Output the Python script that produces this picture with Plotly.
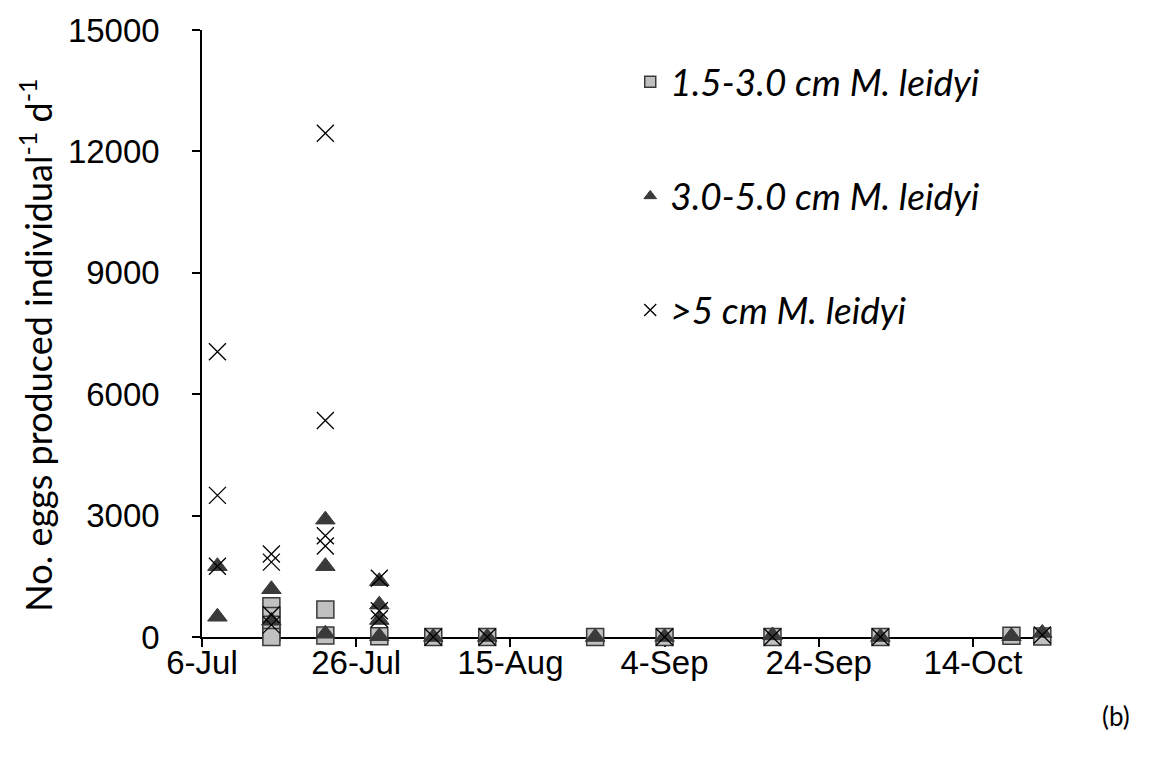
import plotly.graph_objects as go

# Sampling dates (one entry per measured individual) and egg production values
small_dates = ["2009-07-15"] * 5 + ["2009-07-22"] * 2 + ["2009-07-29",
               "2009-08-05", "2009-08-12", "2009-08-26", "2009-09-04",
               "2009-09-18", "2009-10-02", "2009-10-19", "2009-10-23"]
small_eggs = [760, 520, 300, 120, 0, 680, 40, 20,
              0, 0, 0, 0, 0, 0, 30, 10]

mid_dates = (["2009-07-08"] * 2 + ["2009-07-15"] * 2 + ["2009-07-22"] * 3
             + ["2009-07-29"] * 4 + ["2009-08-05", "2009-08-12", "2009-08-26",
                                     "2009-09-04", "2009-09-18", "2009-10-02",
                                     "2009-10-19", "2009-10-23"])
mid_eggs = [1750, 500, 1180, 400, 2900, 1750, 80, 1380, 800, 420, 20,
            0, 0, 0, 0, 40, 0, 20, 100]

large_dates = (["2009-07-08"] * 3 + ["2009-07-15"] * 4 + ["2009-07-22"] * 4
               + ["2009-07-29"] * 3 + ["2009-08-05", "2009-08-12", "2009-09-04",
                                       "2009-09-18", "2009-10-02", "2009-10-23"])
large_eggs = [7050, 3500, 1750, 2050, 1850, 550, 300, 12450, 5350, 2500, 2250,
              1450, 650, 450, 0, 0, 0, 0, 0, 50]

labels = ["1.5-3.0 cm M. leidyi", "3.0-5.0 cm M. leidyi", ">5 cm M. leidyi"]

x_tick_dates = ["2009-07-06", "2009-07-26", "2009-08-15",
                "2009-09-04", "2009-09-24", "2009-10-14"]
y_ticks = [0, 3000, 6000, 9000, 12000, 15000]
y_tick_text = ["0", "3000", "6000", "9000", "12000", "15000"]

sq_style = dict(symbol="square", color="#c0c0c0", line=dict(color="#3a3a3a", width=1.5))
tri_style = dict(symbol="triangle-up", color="#3a3a3a", line=dict(color="#3a3a3a", width=1))
x_style = dict(symbol="x-thin", color="black", line=dict(color="black", width=1.3))

fig = go.Figure()

series = [
    (small_dates, small_eggs, sq_style, 17, 11),
    (mid_dates, mid_eggs, tri_style, 17, 11),
    (large_dates, large_eggs, x_style, 17, 12),
]
for i, (xs, ys, style, size, legend_size) in enumerate(series):
    fig.add_trace(go.Scatter(
        x=xs, y=ys, mode="markers", showlegend=False, cliponaxis=False,
        marker=dict(size=size, **style),
    ))
    # legend entry drawn with a smaller symbol
    fig.add_trace(go.Scatter(
        x=[None], y=[None], mode="markers", name=labels[i],
        legendgroup=f"g{i}", marker=dict(size=legend_size, **style),
    ))

fig.update_layout(
    width=1162, height=757,
    margin=dict(l=202, r=112, t=25, b=120),
    paper_bgcolor="white", plot_bgcolor="white",
    font=dict(family="Liberation Sans, Arial, sans-serif", size=33, color="black"),
    legend=dict(
        x=0.505, xanchor="left", y=0.965, yanchor="top",
        font=dict(family="Lato, sans-serif", size=37, style="italic"),
        tracegroupgap=63, bgcolor="rgba(0,0,0,0)",
    ),
    xaxis=dict(
        type="date", range=["2009-07-06", "2009-10-24"],
        tickvals=x_tick_dates, tickformat="%-d-%b",
        ticks="outside", ticklen=8, tickcolor="black", tickwidth=1.5,
        showline=True, linecolor="black", linewidth=1.5,
        showgrid=False, zeroline=False, layer="below traces",
        tickfont=dict(size=33), ticklabelstandoff=-12,
    ),
    yaxis=dict(
        range=[0, 15000], tickvals=y_ticks, ticktext=y_tick_text,
        ticks="outside", ticklen=8, tickcolor="black", tickwidth=1.5,
        showline=True, linecolor="black", linewidth=1.5,
        showgrid=False, zeroline=False, layer="below traces",
        ticklabelstandoff=26, tickfont=dict(size=33),
    ),
    annotations=[
        dict(text="No. eggs produced individual<sup>-1</sup> d<sup>-1</sup>",
             xref="paper", yref="paper", x=0, y=0.48, xanchor="center",
             yanchor="middle", xshift=-166, textangle=-90, showarrow=False,
             font=dict(family="Lato, sans-serif", size=36)),
        dict(text="(b)", xref="paper", yref="paper", x=1.0, y=-0.13,
             xanchor="center", yanchor="middle", xshift=66, showarrow=False,
             font=dict(family="Lato, sans-serif", size=26)),
    ],
)

fig.write_html("out.html")
